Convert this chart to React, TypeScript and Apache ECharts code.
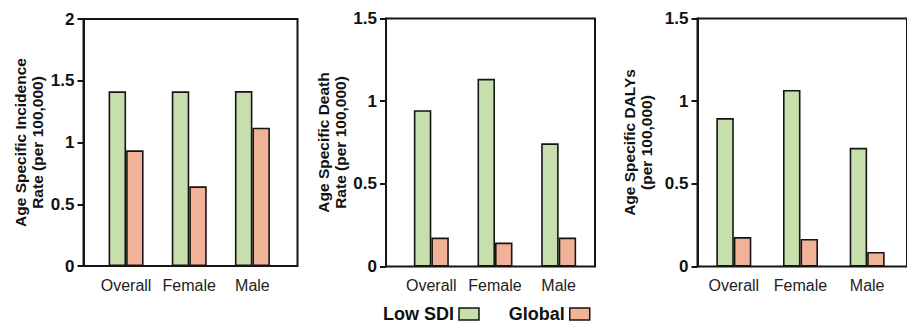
import React, { useEffect, useRef } from "react";
import * as echarts from "echarts";

const categories = ["Overall", "Female", "Male"];
const seriesNames = ["Low SDI", "Global"];

const incidenceLowSDI = [1.414, 1.414, 1.416];
const incidenceGlobal = [0.937, 0.645, 1.12];

const deathLowSDI = [0.945, 1.135, 0.745];
const deathGlobal = [0.175, 0.145, 0.175];

const dalysLowSDI = [0.898, 1.068, 0.718];
const dalysGlobal = [0.178, 0.167, 0.088];

const yMax = [2, 1.5, 1.5];
const yTitles = [
  "Age Specific Incidence\nRate (per 100,000)",
  "Age Specific Death\nRate (per 100,000)",
  "Age Specific DALYs\n(per 100,000)",
];

const FONT = '"Liberation Sans", Arial, Helvetica, sans-serif';
const GREEN = "#c6dfad";
const ORANGE = "#f1b398";
const EDGE = "#151515";

export default function App() {
  const ref = useRef<HTMLDivElement>(null);

  useEffect(() => {
    if (!ref.current) return;
    const chart = echarts.init(ref.current, undefined, { renderer: "svg" });

    const frames = [
      { left: 83.5, top: 19, width: 214, height: 247 },
      { left: 386, top: 18.5, width: 209, height: 248 },
      { left: 697.5, top: 18.5, width: 230, height: 248 },
    ];
    const dataGrids = [
      { left: 94.5, top: 19, width: 189.5, height: 247 },
      { left: 399.5, top: 18.5, width: 191, height: 248 },
      { left: 700.5, top: 18.5, width: 200, height: 248 },
    ];
    const nameGaps = [38, 33, 43];

    const grid: any[] = [];
    const xAxis: any[] = [];
    const yAxis: any[] = [];
    frames.forEach((f, i) => {
      grid.push({ ...f, show: true, borderColor: EDGE, borderWidth: 2, backgroundColor: "transparent" });
      xAxis.push({ type: "category", gridIndex: i, data: [""], show: false });
      yAxis.push({
        type: "value",
        gridIndex: i,
        min: 0,
        max: yMax[i],
        interval: 0.5,
        splitLine: { show: false },
        axisLine: { show: true, lineStyle: { color: EDGE, width: 2 } },
        axisTick: { show: true, inside: false, length: 6, lineStyle: { color: EDGE, width: 2 } },
        axisLabel: { color: "#111", fontFamily: FONT, fontWeight: "bold", fontSize: 17, margin: 9 },
        name: yTitles[i],
        nameLocation: "middle",
        nameGap: nameGaps[i],
        nameTextStyle: { color: "#111", fontFamily: FONT, fontWeight: "bold", fontSize: 15.5, lineHeight: 17 },
      });
    });
    dataGrids.forEach((g, i) => {
      grid.push({ ...g, show: false });
      xAxis.push({
        type: "category",
        gridIndex: 3 + i,
        data: categories,
        axisLine: { show: false },
        axisTick: { show: false },
        axisLabel: { interval: 0, color: "#222", fontFamily: FONT, fontSize: 16, margin: 11 },
      });
      yAxis.push({ type: "value", gridIndex: 3 + i, min: 0, max: yMax[i], show: false, splitLine: { show: false } });
    });

    const panels = [
      [incidenceLowSDI, incidenceGlobal],
      [deathLowSDI, deathGlobal],
      [dalysLowSDI, dalysGlobal],
    ];
    const series: any[] = [];
    panels.forEach((pair, i) => {
      pair.forEach((vals, j) => {
        series.push({
          type: "bar",
          name: seriesNames[j],
          xAxisIndex: 3 + i,
          yAxisIndex: 3 + i,
          data: vals,
          barWidth: 17.5,
          barGap: "0%",
          itemStyle: { color: j === 0 ? GREEN : ORANGE, borderColor: EDGE, borderWidth: 1.6 },
        });
      });
    });

    chart.setOption({
      animation: false,
      backgroundColor: "#ffffff",
      grid,
      xAxis,
      yAxis,
      series,
      legend: {
        data: seriesNames,
        left: 381,
        top: 302,
        align: "right",
        itemWidth: 20,
        itemHeight: 12,
        itemGap: 29,
        icon: "rect",
        selectedMode: false,
        padding: 2,
        itemStyle: { borderColor: EDGE, borderWidth: 1.5 },
        textStyle: { color: "#111", fontFamily: FONT, fontWeight: "bold", fontSize: 18, lineHeight: 20 },
      },
    });

    return () => chart.dispose();
  }, []);

  return (
    <div
      ref={ref}
      style={{ position: "fixed", left: 0, top: 0, width: 907, height: 324, background: "#fff" }}
    />
  );
}
